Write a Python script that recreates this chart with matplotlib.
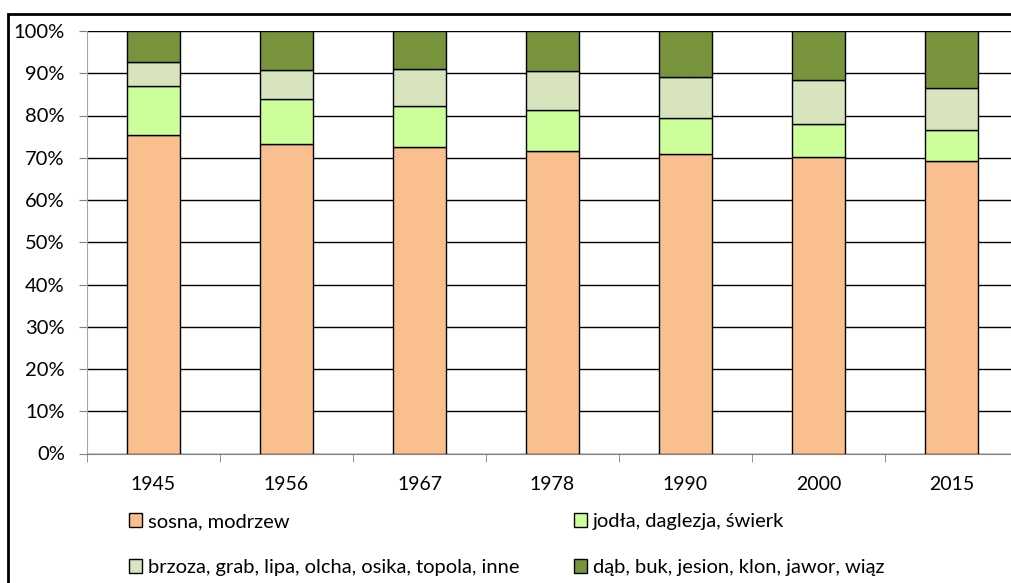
import numpy as np
import matplotlib.pyplot as plt
from matplotlib.patches import Rectangle

plt.rcParams['font.family'] = ['Lato', 'DejaVu Sans']

years = ['1945', '1956', '1967', '1978', '1990', '2000', '2015']
sosna = [75.5, 73.2, 72.6, 71.6, 70.9, 70.1, 69.3]
jodla = [11.5, 10.6, 9.6, 9.7, 8.5, 7.8, 7.3]
brzoza = [5.7, 6.9, 8.7, 9.2, 9.7, 10.5, 10.0]
dab = [7.3, 9.3, 9.1, 9.5, 10.9, 11.6, 13.4]

names = ['sosna, modrzew', 'jodła, daglezja, świerk',
         'brzoza, grab, lipa, olcha, osika, topola, inne',
         'dąb, buk, jesion, klon, jawor, wiąz']
colors = ['#F9BF8F', '#CCFF99', '#D7E4BD', '#77933C']

W, H = 1012, 583
fig = plt.figure(figsize=(W / 100, H / 100), dpi=100)
ax = fig.add_axes([87 / W, 1 - 453.5 / H, 931 / W, 422.5 / H])

x = np.arange(len(years))
bottom = np.zeros(len(years))
handles = []
for vals, c, n in zip([sosna, jodla, brzoza, dab], colors, names):
    b = ax.bar(x, vals, bottom=bottom, width=0.4, color=c, edgecolor='black',
               linewidth=1, label=n, zorder=3)
    handles.append(b)
    bottom += np.array(vals)

ax.set_xlim(-0.5, len(years) - 0.5)
ax.set_ylim(0, 100)
ax.set_xticks(x)
ax.set_xticklabels(years, fontsize=14)
ax.set_xticks(np.arange(-0.5, len(years), 1), minor=True)
ax.tick_params(axis='x', which='major', length=0, pad=16)
ax.tick_params(axis='x', which='minor', length=6, color='#808080', direction='out')
ax.set_yticks(np.arange(0, 101, 10))
ax.set_yticklabels([f'{v}%' for v in range(0, 101, 10)], fontsize=14.5)
ax.tick_params(axis='y', length=6, color='#808080', pad=10)
ax.yaxis.grid(True, color='black', linewidth=1, zorder=0)
ax.axhline(100, color='#808080', linewidth=1.5, zorder=1)
for s in ['top', 'right']:
    ax.spines[s].set_visible(False)
ax.spines['left'].set_color('#A6A6A6')
ax.spines['bottom'].set_color('#808080')

leg_kw = dict(loc='upper left', frameon=False, fontsize=14.5, handlelength=0.65,
              handleheight=0.65, handletextpad=0.3, labelspacing=1.45,
              borderaxespad=0, borderpad=0)
fig.legend([handles[0], handles[2]], [names[0], names[2]],
           bbox_to_anchor=(129 / W, 1 - 513 / H), **leg_kw)
fig.legend([handles[1], handles[3]], [names[1], names[3]],
           bbox_to_anchor=(574 / W, 1 - 513 / H), **leg_kw)

fig.patches.append(Rectangle((8 / W, -0.1), 1.1, 1 - 14 / H + 0.1, transform=fig.transFigure,
                             fill=False, edgecolor='black', linewidth=2))

fig.savefig('out.png', dpi=100)
